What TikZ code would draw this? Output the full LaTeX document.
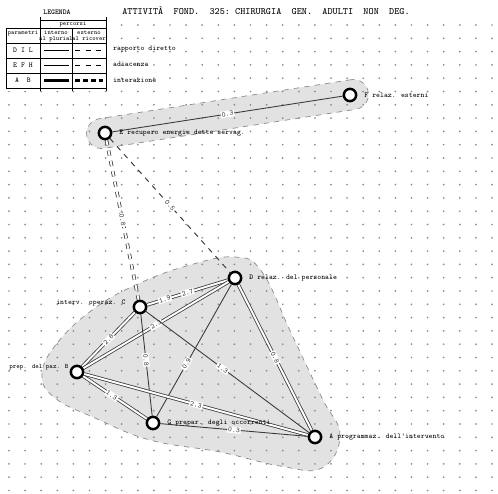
\documentclass[tikz,border=0pt]{standalone}
\usepackage{fontspec}
\usetikzlibrary{backgrounds,calc}
\definecolor{SchGray}{HTML}{8C8C8C}
\definecolor{SchShade}{HTML}{E2E2E2}
\definecolor{SchEdge}{HTML}{3A3A3A}
\tikzset{
  stn/.style={circle,draw=black,line width=1.4pt,fill=white,minimum size=7pt,inner sep=0pt},
  tw/.style={font=\fontsize{4.2}{5}\selectfont\ttfamily},
  twh/.style={font=\fontsize{3.6}{4}\selectfont\ttfamily,inner sep=0.5pt},
  sing/.style={SchEdge,line width=0.5pt},
  dbl/.style={SchEdge,line width=0.45pt,double=white,double distance=1.1pt},
  dsh/.style={SchEdge,line width=0.55pt,dashed},
  val/.style={tw,fill=white,inner sep=0.5pt,sloped},
  hull/.style={fill=SchShade,draw=SchGray,dashed,line width=0.4pt},
}

\begin{document}
\begin{tikzpicture}[x=0.02cm,y=-0.02cm]
  \useasboundingbox (0,0) rectangle (498,494);
  % stazioni
  \node[stn,label={[tw,label distance=0.5pt]right:F relaz. esterni}] (relest) at (350,95) {};
  \node[stn,label={[tw,label distance=0.5pt]right:E recupero energie dette servag.}] (recup) at (105,133) {};
  \node[stn,label={[tw,label distance=0.5pt]right:D relaz. del personale}] (relpers) at (235,278) {};
  \node[stn,label={[tw,label distance=0.5pt,yshift=2pt]left:interv. operaz. C}] (interv) at (140,307) {};
  \node[stn,label={[twh,font=\fontsize{3.8}{4}\selectfont\ttfamily,label distance=0pt,yshift=3pt]left:prep. del paz. B}] (preppaz) at (77,372) {};
  \node[stn,label={[tw,label distance=0.5pt]right:G prepar. degli occorrenti}] (prepocc) at (153,423) {};
  \node[stn,label={[tw,label distance=0.5pt]right:A programmaz. dell'intervento}] (progr) at (315,437) {};

  \begin{scope}[on background layer]
    % zone
    \node[hull,rounded corners=0.3cm,minimum width=5.7cm,minimum height=0.6cm,rotate=8.8]
      at ($(recup)!0.5!(relest)$) {};
    \filldraw[hull] plot[smooth cycle,tension=0.7] coordinates {
      (42,374) (58,342) (95,308) (140,283) (190,265) (235,257) (262,272)
      (292,335) (322,398) (340,435) (322,468) (280,466) (220,452)
      (150,440) (95,418) (55,398)};
    % griglia
    \foreach \i in {0,...,30}
      \foreach \j in {0,...,35}
        \fill[SchGray] (9+16.1*\i,25+13.3*\j) circle (0.55pt);
    % rapporti
    \draw[sing] (recup) -- node[val]{0.3} (relest);
    \draw[dbl,dashed] (recup) -- node[val]{0.8} (interv);
    \draw[dsh] (recup) -- node[val]{0.5} (relpers);
    \draw[dbl] (interv) -- node[val,pos=0.22]{1.9} node[val,pos=0.5]{2.7} (relpers);
    \draw[dbl] (preppaz) -- node[val]{2.8} (interv);
    \draw[dbl] (preppaz) -- node[val]{2.3} (relpers);
    \draw[sing] (interv) -- node[val,pos=0.45]{0.8} (prepocc);
    \draw[sing] (interv) -- node[val,pos=0.47]{1.3} (progr);
    \draw[sing] (relpers) -- node[val,pos=0.6]{0.9} (prepocc);
    \draw[dbl] (relpers) -- node[val]{0.8} (progr);
    \draw[dbl] (preppaz) -- node[val,pos=0.45]{1.3} (prepocc);
    \draw[dbl] (preppaz) -- node[val]{2.3} (progr);
    \draw[sing] (prepocc) -- node[val]{0.3} (progr);
  \end{scope}

  % titolo
  \node[font=\fontsize{5.5}{6}\selectfont\ttfamily] (titolo) at (266,11)
    {ATTIVITÀ~~FOND.~~325:~CHIRURGIA~~GEN.~~ADULTI~~NON~~DEG.};

  % legenda
  \fill[white] (5,17) rectangle (107,91);
  \node[tw,font=\fontsize{4.2}{5}\selectfont\ttfamily\bfseries] (legenda) at (57,12) {LEGENDA};
  \draw[line width=0.5pt] (40,20) -- (106,20);
  \foreach \yy in {28,43,58,73,88}
    \draw[line width=0.5pt] (6,\yy) -- (106,\yy);
  \draw[line width=0.5pt] (6,28) -- (6,88);
  \draw[line width=0.5pt] (40,17) -- (40,91);
  \draw[line width=0.5pt] (72,28) -- (72,91);
  \draw[line width=0.5pt] (106,17) -- (106,91);
  \node[twh] (percorsi) at (73,24) {percorsi};
  \node[twh] (param) at (23,33) {parametri};
  \node[twh] (interno) at (56,33) {interno};
  \node[twh] (esterno) at (89,33) {esterno};
  \node[twh] (plur) at (56,39) {al plurial};
  \node[twh] (ricov) at (89,39) {al ricover};
  \node[tw] (rowa) at (23,50.5) {D~I~L};
  \node[tw] (rowb) at (23,65.5) {E~F~H};
  \node[tw] (rowc) at (23,80.5) {A~~B};
  \draw[line width=0.5pt] (44,50.5) -- (69,50.5);
  \draw[line width=0.5pt,dashed] (75,50.5) -- (103,50.5);
  \draw[line width=0.9pt] (44,65.5) -- (69,65.5);
  \draw[line width=0.9pt,dashed] (75,65.5) -- (103,65.5);
  \draw[line width=1.3pt] (44,80.5) -- (69,80.5);
  \draw[line width=1.3pt,dash pattern=on 3pt off 1.5pt] (75,80.5) -- (103,80.5);
  \node[tw,anchor=west] (diretto) at (107,49) {rapporto diretto};
  \node[tw,anchor=west] (adiac) at (107,64) {adiacenza};
  \node[tw,anchor=west] (inter) at (107,80) {interazione};
\end{tikzpicture}
\end{document}
